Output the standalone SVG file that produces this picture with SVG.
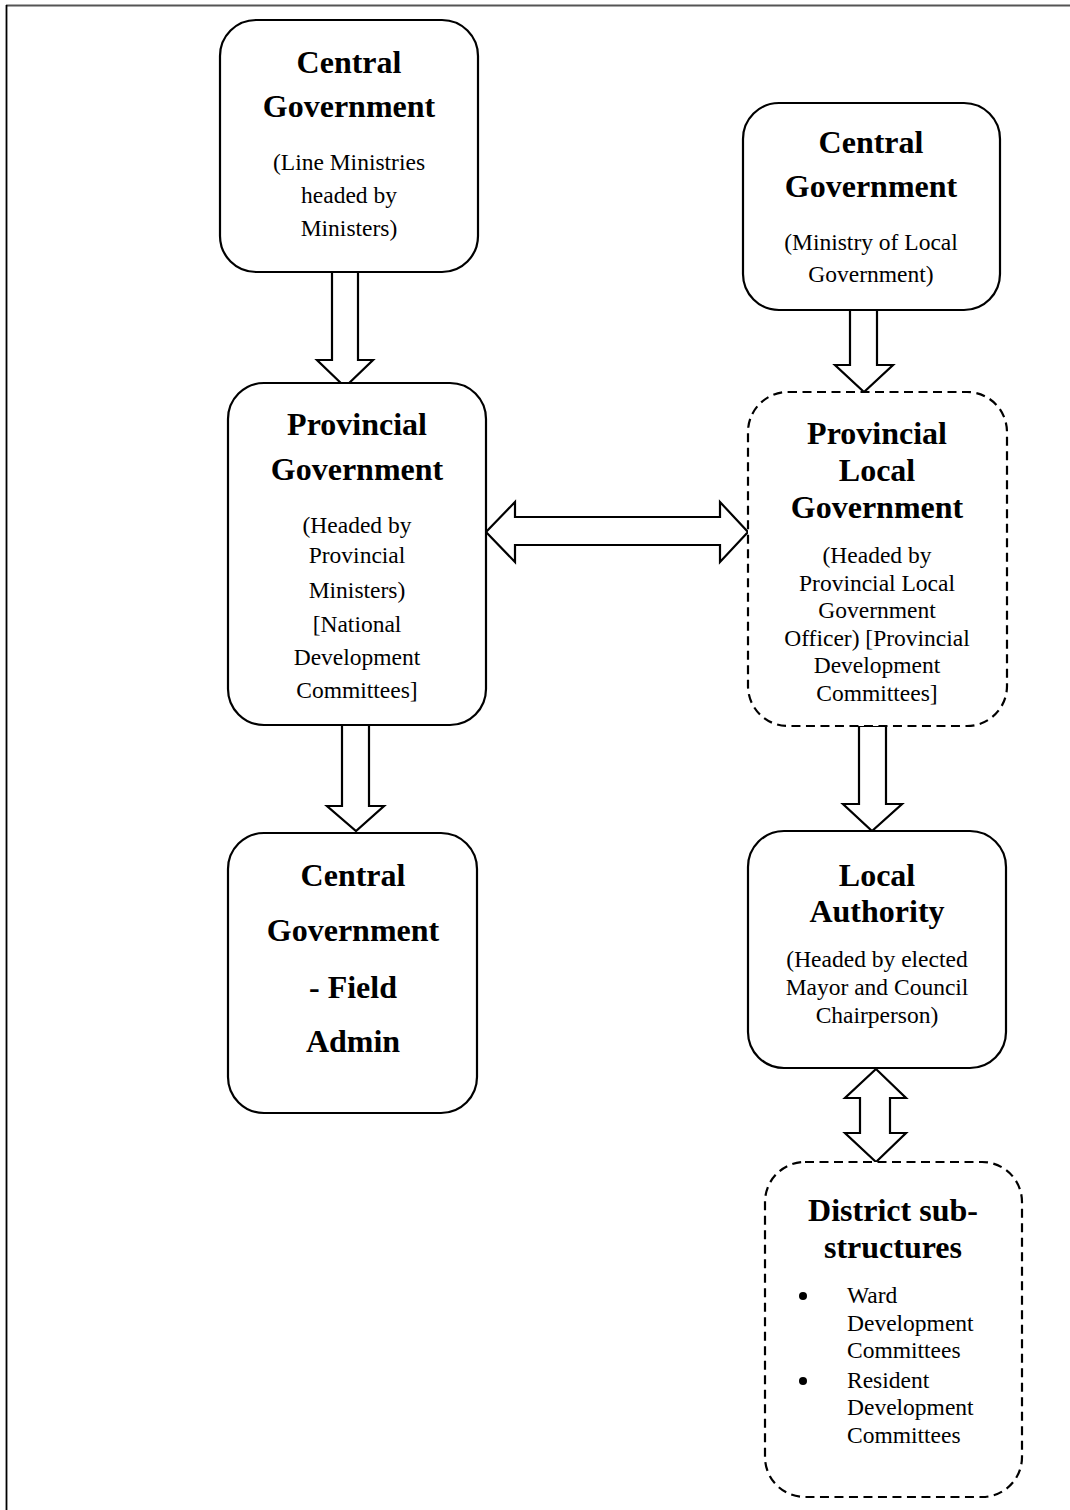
<svg xmlns="http://www.w3.org/2000/svg" width="1070" height="1510" viewBox="0 0 1070 1510">
<style>
.box{fill:#fff;stroke:#000;stroke-width:2.2}
.dash{fill:#fff;stroke:#000;stroke-width:2.2;stroke-dasharray:9 5.5}
.arr{fill:#fff;stroke:#000;stroke-width:2.2;stroke-linejoin:miter}
.t{font-family:"Liberation Serif","Times New Roman",serif;font-weight:bold;font-size:32px;text-anchor:middle;fill:#000}
.s{font-family:"Liberation Serif","Times New Roman",serif;font-size:23.5px;text-anchor:middle;fill:#000}
.l{font-family:"Liberation Serif","Times New Roman",serif;font-size:23.5px;fill:#000}
</style>
<rect width="1070" height="1510" fill="#fff"/>
<line x1="6" y1="5.5" x2="1070" y2="5.5" stroke="#555" stroke-width="2"/>
<line x1="6.5" y1="5" x2="6.5" y2="1510" stroke="#000" stroke-width="1.8"/>

<g id="connectors">
<polygon class="arr" points="332,272 358,272 358,360 373,360 345,387 317,360 332,360"/>
<polygon class="arr" points="342,724 369,724 369,806 384,806 356,831 327,806 342,806"/>
<polygon class="arr" points="850,310 877,310 877,365 893,365 864,392 835,365 850,365"/>
<polygon class="arr" points="859,726 886,726 886,804 902,804 872,831 843,804 859,804"/>
<polygon class="arr" points="876,1069 906,1098 890,1098 890,1133 906,1133 876,1162 845,1133 860,1133 860,1098 845,1098"/>
<polygon class="arr" points="486,532 515,502 515,517 720,517 720,502 748,532 720,562 720,545 515,545 515,562"/>
</g>

<g id="node-central-line">
<rect class="box" x="220" y="20" width="258" height="252" rx="36"/>
<text class="t" x="349" y="73">Central</text>
<text class="t" x="349" y="117">Government</text>
<text class="s" x="349" y="170">(Line Ministries</text>
<text class="s" x="349" y="203">headed by</text>
<text class="s" x="349" y="236">Ministers)</text>
</g>

<g id="node-provincial-gov">
<rect class="box" x="228" y="383" width="258" height="342" rx="36"/>
<text class="t" x="357" y="435">Provincial</text>
<text class="t" x="357" y="480">Government</text>
<text class="s" x="357" y="533">(Headed by</text>
<text class="s" x="357" y="563">Provincial</text>
<text class="s" x="357" y="598">Ministers)</text>
<text class="s" x="357" y="632">[National</text>
<text class="s" x="357" y="665">Development</text>
<text class="s" x="357" y="698">Committees]</text>
</g>

<g id="node-field-admin">
<rect class="box" x="228" y="833" width="249" height="280" rx="36"/>
<text class="t" x="353" y="886">Central</text>
<text class="t" x="353" y="941">Government</text>
<text class="t" x="353" y="998">- Field</text>
<text class="t" x="353" y="1052">Admin</text>
</g>

<g id="node-central-local">
<rect class="box" x="743" y="103" width="257" height="207" rx="36"/>
<text class="t" x="871" y="153">Central</text>
<text class="t" x="871" y="197">Government</text>
<text class="s" x="871" y="250">(Ministry of Local</text>
<text class="s" x="871" y="282">Government)</text>
</g>

<g id="node-provincial-local">
<rect class="dash" x="748" y="392" width="259" height="334" rx="40"/>
<text class="t" x="877" y="444">Provincial</text>
<text class="t" x="877" y="481">Local</text>
<text class="t" x="877" y="518">Government</text>
<text class="s" x="877" y="563">(Headed by</text>
<text class="s" x="877" y="591">Provincial Local</text>
<text class="s" x="877" y="618">Government</text>
<text class="s" x="877" y="646">Officer) [Provincial</text>
<text class="s" x="877" y="673">Development</text>
<text class="s" x="877" y="701">Committees]</text>
</g>

<g id="node-local-authority">
<rect class="box" x="748" y="831" width="258" height="237" rx="36"/>
<text class="t" x="877" y="886">Local</text>
<text class="t" x="877" y="922">Authority</text>
<text class="s" x="877" y="967">(Headed by elected</text>
<text class="s" x="877" y="995">Mayor and Council</text>
<text class="s" x="877" y="1023">Chairperson)</text>
</g>

<g id="node-district">
<rect class="dash" x="765" y="1162" width="257" height="335" rx="40"/>
<text class="t" x="893" y="1221">District sub-</text>
<text class="t" x="893" y="1258">structures</text>
<circle cx="803" cy="1296" r="4"/>
<circle cx="803" cy="1381" r="4"/>
<text class="l" x="847" y="1303">Ward</text>
<text class="l" x="847" y="1331">Development</text>
<text class="l" x="847" y="1358">Committees</text>
<text class="l" x="847" y="1388">Resident</text>
<text class="l" x="847" y="1415">Development</text>
<text class="l" x="847" y="1443">Committees</text>
</g>
</svg>
